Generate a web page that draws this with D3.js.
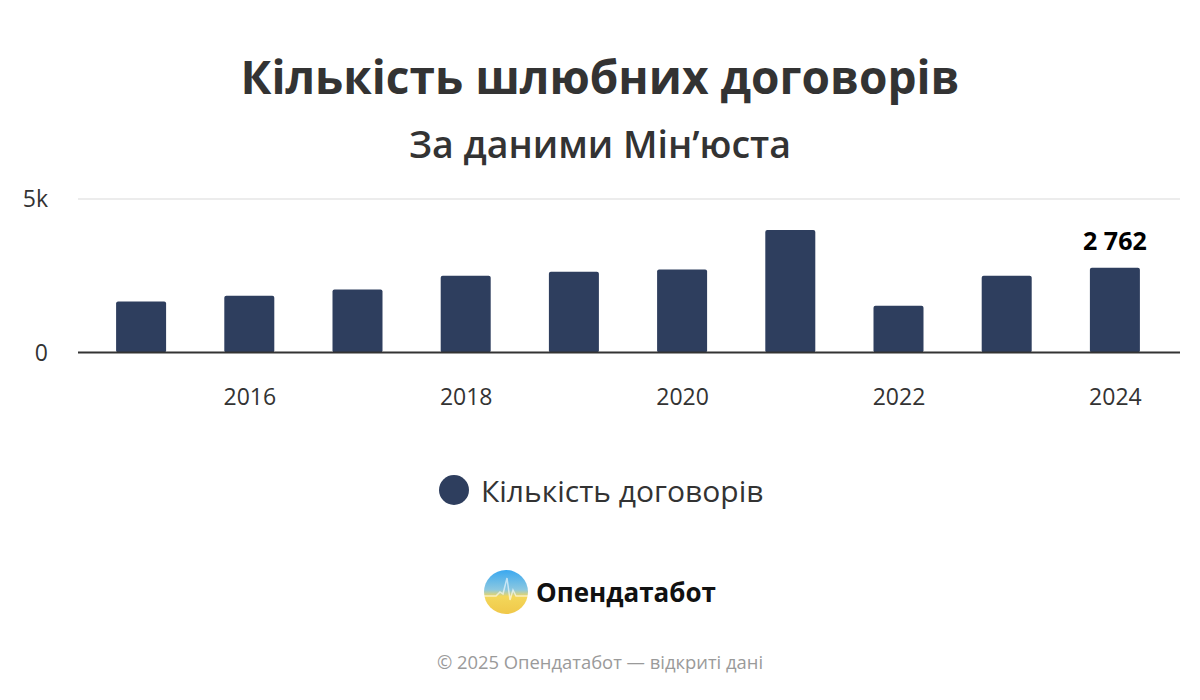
<!DOCTYPE html>
<html>
<head>
<meta charset="utf-8">
<script src="https://cdn.jsdelivr.net/npm/d3@7"></script>
<style>
  body { margin: 0; background: #fff; }
  svg { display: block; font-family: "Open Sans", "Noto Sans", sans-serif; }
</style>
</head>
<body>
<div id="chart"></div>
<script>
// data
const years = [2015, 2016, 2017, 2018, 2019, 2020, 2021, 2022, 2023, 2024];
const contracts = [1660, 1850, 2050, 2500, 2630, 2700, 3990, 1520, 2500, 2762];
const xTicks = [2016, 2018, 2020, 2022, 2024];
const yTicks = [0, 5000];
const yTickLabels = ["0", "5k"];

const width = 1200, height = 700;
const barColor = "#2e3e5e";

const svg = d3.select("#chart")
  .append("svg")
  .attr("width", width)
  .attr("height", height);

// titles
svg.append("text")
  .attr("x", 600).attr("y", 94)
  .attr("text-anchor", "middle")
  .attr("font-size", 46).attr("font-weight", 700)
  .attr("fill", "#333")
  .text("Кількість шлюбних договорів");

svg.append("text")
  .attr("x", 600).attr("y", 158)
  .attr("text-anchor", "middle")
  .attr("font-size", 37.5).attr("font-weight", 600)
  .attr("fill", "#333")
  .text("За даними Мін’юста");

// scales
const x = d3.scaleLinear().domain([2014.5, 2024.5]).range([87, 1169]);
const y = d3.scaleLinear().domain([0, 5000]).range([352.5, 199]);
const plotLeft = 78, plotRight = 1180;

// grid
svg.append("g")
  .selectAll("line")
  .data(yTicks.filter(d => d > 0))
  .join("line")
  .attr("x1", plotLeft).attr("x2", plotRight)
  .attr("y1", d => y(d)).attr("y2", d => y(d))
  .attr("stroke", "#e6e6e6").attr("stroke-width", 1.5);

// y labels
svg.append("g")
  .selectAll("text")
  .data(yTicks)
  .join("text")
  .attr("x", 48)
  .attr("y", d => y(d))
  .attr("dy", "0.35em")
  .attr("text-anchor", "end")
  .attr("font-size", 23)
  .attr("fill", "#333")
  .text((d, i) => yTickLabels[i]);

// bars
const barW = 50;
svg.append("g")
  .selectAll("rect")
  .data(years)
  .join("rect")
  .attr("x", d => x(d) - barW / 2)
  .attr("y", (d, i) => y(contracts[i]))
  .attr("width", barW)
  .attr("height", (d, i) => y(0) - y(contracts[i]))
  .attr("rx", 2)
  .attr("fill", barColor);

// baseline
svg.append("line")
  .attr("x1", plotLeft).attr("x2", plotRight)
  .attr("y1", y(0)).attr("y2", y(0))
  .attr("stroke", "#333").attr("stroke-width", 2);

// x axis labels
const xAxis = d3.axisBottom(x).tickValues(xTicks).tickFormat(d3.format("d")).tickSize(0).tickPadding(0);
const gx = svg.append("g")
  .attr("transform", `translate(0, ${y(0)})`)
  .call(xAxis);
gx.select(".domain").remove();
gx.selectAll("text")
  .attr("y", 44)
  .attr("dy", "0.35em")
  .attr("font-size", 23)
  .attr("font-family", "\"Open Sans\", sans-serif")
  .attr("fill", "#333");

// data label on last bar
const last = years.length - 1;
svg.append("text")
  .attr("x", x(years[last]))
  .attr("y", y(contracts[last]) - 18)
  .attr("text-anchor", "middle")
  .attr("font-size", 25).attr("font-weight", 700)
  .attr("fill", "#000")
  .text(d3.format(",")(contracts[last]).replace(/,/g, " "));

// legend
svg.append("circle")
  .attr("cx", 454).attr("cy", 490).attr("r", 15)
  .attr("fill", barColor);
svg.append("text")
  .attr("x", 481).attr("y", 502)
  .attr("font-size", 30)
  .attr("fill", "#333")
  .text("Кількість договорів");

// logo
const defs = svg.append("defs");
const grad = defs.append("linearGradient")
  .attr("id", "logoGrad")
  .attr("x1", 0).attr("y1", 0).attr("x2", 0).attr("y2", 1);
grad.append("stop").attr("offset", "0%").attr("stop-color", "#3aa8f0");
grad.append("stop").attr("offset", "45%").attr("stop-color", "#8cc8e0");
grad.append("stop").attr("offset", "60%").attr("stop-color", "#f3d75a");
grad.append("stop").attr("offset", "100%").attr("stop-color", "#f0c84a");

const logo = svg.append("g").attr("transform", "translate(506, 592)");
logo.append("circle").attr("r", 22).attr("fill", "url(#logoGrad)");
const wave = [[-22, 4], [-10, 4], [-6, 0], [-3, 2], [1, -14], [4, 8], [7, -2], [10, 4], [22, 4]];
logo.append("path")
  .attr("d", d3.line()(wave))
  .attr("fill", "none")
  .attr("stroke", "#ffffff")
  .attr("stroke-opacity", 0.6)
  .attr("stroke-width", 1.5);

svg.append("text")
  .attr("x", 536).attr("y", 602)
  .attr("font-size", 26).attr("font-weight", 700)
  .attr("fill", "#111")
  .text("Опендатабот");

// footer
svg.append("text")
  .attr("x", 600).attr("y", 669)
  .attr("text-anchor", "middle")
  .attr("font-size", 18.4)
  .attr("fill", "#9a9a9a")
  .text("© 2025 Опендатабот — відкриті дані");
</script>
</body>
</html>
